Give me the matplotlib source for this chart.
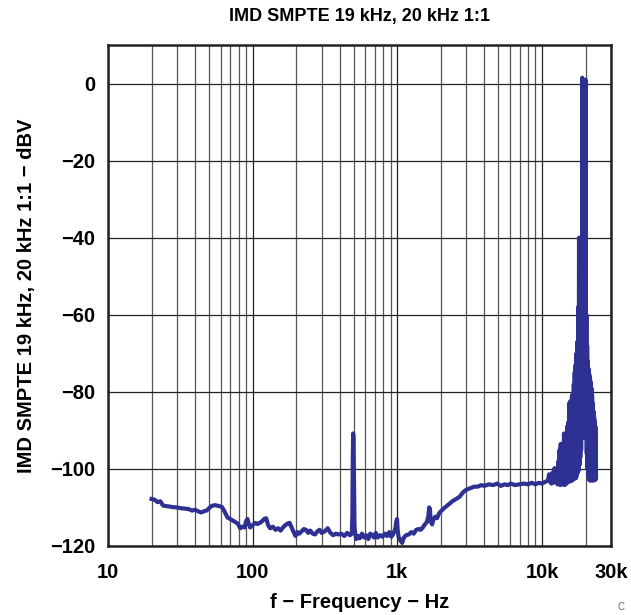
import numpy as np
import matplotlib
matplotlib.use("Agg")
import matplotlib.pyplot as plt
from matplotlib.ticker import FixedLocator, NullFormatter, LogLocator

# Trace (frequency in Hz, level in dBV)
freq_hz = [
    20, 21, 22, 23, 24, 26, 28, 30, 32, 34, 36, 38, 40, 42, 44, 46, 48, 50,
    52, 55, 58, 61, 63, 65, 67, 70, 73, 76, 79, 82, 85, 88, 90, 92, 94, 96,
    100, 104, 108, 112, 116, 120, 124, 128, 132, 138, 144, 150, 156, 162,
    168, 174, 180, 186, 192, 198, 204, 210, 218, 226, 234, 242, 250, 260,
    270, 280, 290, 300, 315, 330, 345, 360, 375, 390, 410, 430, 450, 470,
    485, 489, 492, 495, 498, 502, 506, 512, 520, 535, 550, 570, 590, 610,
    630, 650, 670, 690, 710, 730, 760, 790, 820, 850, 880, 910, 940, 970,
    985, 995, 1005, 1020, 1050, 1080, 1110, 1150, 1200, 1250, 1300, 1350,
    1400, 1450, 1500, 1550, 1600, 1640, 1660, 1680, 1700, 1740, 1780, 1830,
    1880, 1940, 2000, 2100, 2200, 2300, 2400, 2500, 2600, 2700, 2800, 2900,
    3000, 3200, 3400, 3600, 3800, 4000, 4300, 4600, 4900, 5200, 5500, 5800,
    6100, 6500, 7000, 7500, 8000, 8500, 9000, 9500, 10000, 10500, 11000,
    11200, 11400, 11600, 11800, 12000, 12200, 12400, 12600, 12800,
    # intermodulation cluster
    13000, 13120, 13240, 13360, 13480, 13600, 13720, 13840, 13960, 14080,
    14200, 14320, 14440, 14560, 14680, 14800, 14920, 15040, 15160, 15280,
    15400, 15520, 15640, 15760, 15880, 16000, 16120, 16240, 16360, 16480,
    16600, 16720, 16840, 16960, 17080, 17200, 17320, 17440, 17560, 17680,
    17800, 17920, 18040, 18160, 18280, 18400, 18520, 18640, 18760, 18880,
    18950, 19000, 19050, 19150, 19280, 19400, 19520, 19640, 19760, 19880,
    19950, 20000, 20050, 20150, 20280, 20400, 20520, 20640, 20760, 20880,
    21000, 21120, 21240, 21360, 21480, 21600, 21720, 21840, 21960, 22080,
    22200, 22320, 22440, 22560, 22680, 22800, 22920, 23040, 23160, 23280,
    23400, 23480, 23540, 23580, 23620,
]
level_dbv = [
    -107.8, -108.0, -108.6, -108.4, -109.5, -109.7, -109.9, -110.0, -110.2,
    -110.3, -110.4, -110.8, -110.6, -111.0, -111.3, -111.0, -110.8, -110.2,
    -109.6, -109.4, -109.6, -109.8, -110.6, -111.6, -112.6, -113.0, -113.4,
    -113.8, -114.2, -115.4, -115.0, -115.2, -113.6, -113.0, -114.2, -115.2,
    -114.6, -114.0, -114.3, -114.0, -113.6, -113.0, -112.8, -114.6, -115.4,
    -115.0, -115.8, -115.4, -116.0, -115.2, -114.6, -114.2, -114.0, -115.2,
    -116.4, -117.4, -116.4, -116.8, -116.2, -115.6, -115.8, -116.6, -116.0,
    -116.8, -117.0, -116.2, -115.8, -116.6, -116.2, -115.4, -116.6, -117.2,
    -116.8, -117.0, -116.8, -117.4, -116.6, -117.2, -116.8, -112.0, -98.0,
    -90.8, -92.0, -104.0, -115.0, -116.8, -118.2, -117.4, -118.0, -116.8,
    -117.8, -117.2, -118.2, -116.8, -117.2, -117.8, -116.6, -117.8, -117.2,
    -117.6, -116.8, -117.4, -116.4, -117.6, -116.8, -115.4, -113.6, -113.0,
    -115.8, -117.6, -118.6, -119.2, -117.8, -117.2, -117.0, -116.4, -116.8,
    -115.8, -115.6, -115.8, -115.2, -114.4, -113.8, -112.2, -110.0, -110.4,
    -113.6, -114.4, -113.0, -112.4, -112.8, -111.6, -111.0, -110.2, -109.6,
    -109.0, -108.4, -108.0, -107.6, -107.2, -106.4, -105.8, -105.4, -105.0,
    -104.6, -104.6, -104.2, -104.4, -104.0, -104.2, -103.8, -104.4, -104.0,
    -104.2, -103.8, -104.2, -104.0, -103.8, -104.0, -103.6, -104.0, -103.6,
    -103.8, -103.4, -103.0, -101.4, -103.2, -103.8, -101.0, -103.6, -99.8,
    -103.4, -100.6, -104.0,
    # intermodulation cluster
    -98.0, -103.8, -95.0, -104.2, -93.5, -103.6, -94.0, -104.0, -96.0, -103.4,
    -90.8, -104.2, -91.5, -103.6, -93.0, -103.8, -89.0, -102.8, -88.0, -103.4,
    -83.0, -102.6, -82.5, -103.2, -84.0, -102.4, -81.0, -103.0, -80.5, -102.0,
    -78.0, -102.6, -75.0, -101.8, -73.0, -102.4, -70.0, -101.6, -67.0, -101.0,
    -58.0, -100.4, -40.0, -99.0, -55.0, -97.0, -60.0, -95.0, -50.0, -88.0,
    -20.0, 1.5, -18.0, -80.0, -55.0, -90.0, -52.0, -92.0, -50.0, -80.0,
    -25.0, 1.0, -30.0, -84.0, -60.0, -96.0, -68.0, -100.0, -72.0, -102.0,
    -74.0, -102.6, -75.5, -103.0, -76.5, -102.4, -77.5, -103.0, -79.0, -102.4,
    -81.0, -103.0, -83.0, -102.4, -85.0, -103.0, -86.5, -102.6, -87.5, -102.4,
    -89.0, -102.8, -92.0, -102.2, -102.0,
]

x_ticks = [10, 100, 1000, 10000, 30000]
x_tick_labels = ["10", "100", "1k", "10k", "30k"]
y_ticks = [0, -20, -40, -60, -80, -100, -120]
y_tick_labels = ["0", "\u221220", "\u221240", "\u221260", "\u221280", "\u2212100", "\u2212120"]

title = "IMD SMPTE 19 kHz, 20 kHz 1:1"
x_label = "f \u2212 Frequency \u2212 Hz"
y_label = "IMD SMPTE 19 kHz, 20 kHz 1:1 \u2212 dBV"

plt.rcParams["font.family"] = ["Liberation Sans", "DejaVu Sans"]

fig = plt.figure(figsize=(6.31, 6.15), dpi=100)
ax = fig.add_axes([108 / 631, 1 - 546 / 615, (611 - 108) / 631, (546 - 45) / 615])

ax.plot(freq_hz, level_dbv, color="#2E3192", lw=3.0, solid_joinstyle="round", zorder=3)

ax.set_xscale("log")
ax.set_xlim(10, 30000)
ax.set_ylim(-120, 10)

ax.xaxis.set_major_locator(FixedLocator(x_ticks))
ax.set_xticklabels(x_tick_labels)
ax.xaxis.set_minor_locator(LogLocator(base=10, subs=np.arange(2, 10)))
ax.xaxis.set_minor_formatter(NullFormatter())
ax.set_yticks(y_ticks)
ax.set_yticklabels(y_tick_labels)

ax.grid(True, which="major", color="#222222", lw=0.9)
ax.grid(True, which="minor", axis="x", color="#555555", lw=0.9)
ax.tick_params(which="both", length=0)
ax.tick_params(axis="x", pad=12, labelsize=14.5)
ax.tick_params(axis="y", pad=9, labelsize=14.5)
for lbl in ax.get_xticklabels() + ax.get_yticklabels():
    lbl.set_fontweight("bold")

for sp in ax.spines.values():
    sp.set_linewidth(1.8)
    sp.set_color("#222222")

ax.set_title(title, fontsize=13, fontweight="bold", pad=17)
ax.set_xlabel(x_label, fontsize=14.5, fontweight="bold", labelpad=8)
ax.set_ylabel(y_label, fontsize=14.5, fontweight="bold", labelpad=10)

fig.text(617 / 631, 0.005, "C", fontsize=7, color="#666666", ha="left", va="bottom")

fig.savefig("out.png", dpi=100)
